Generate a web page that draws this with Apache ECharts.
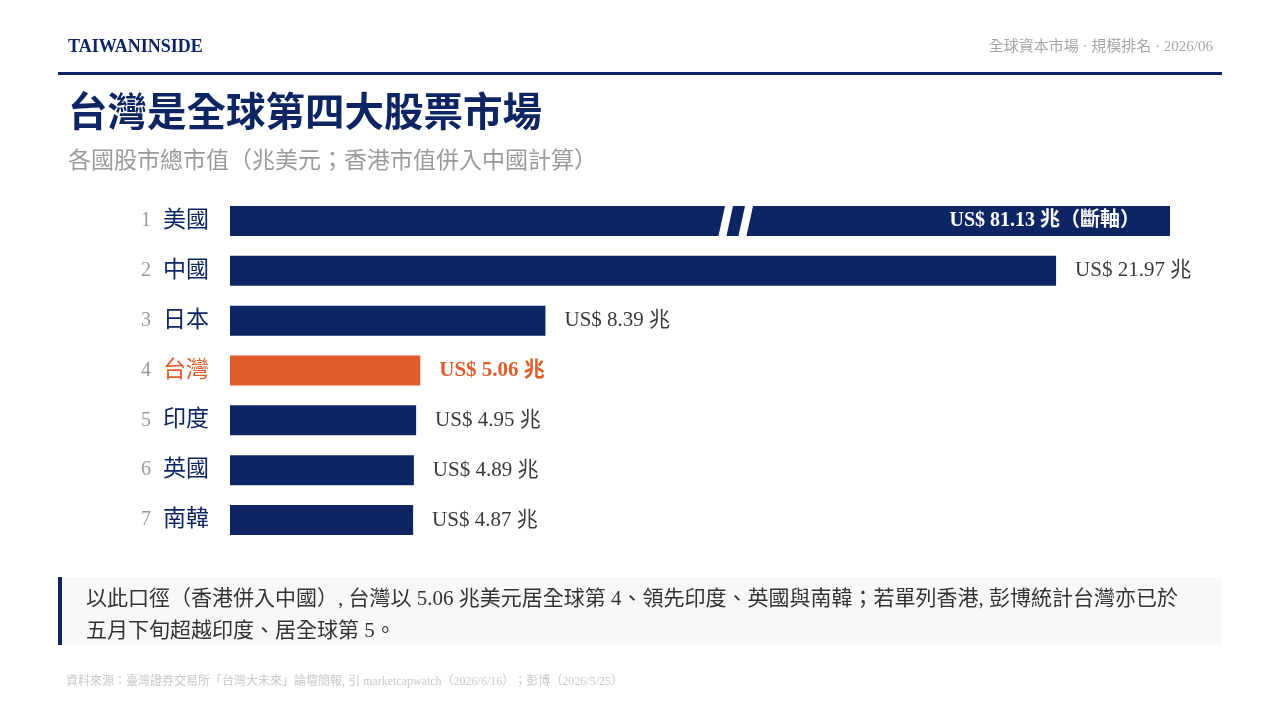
<!DOCTYPE html>
<html>
<head>
<meta charset="utf-8">
<script src="https://cdn.jsdelivr.net/npm/echarts@6/dist/echarts.min.js"></script>
<style>
  html, body { margin: 0; padding: 0; background: #fff; }
  #chart { width: 1279px; height: 719px; }
</style>
</head>
<body>
<div id="chart"></div>
<script>
// data
const countries = ['美國', '中國', '日本', '台灣', '印度', '英國', '南韓'];
const marketCap = [81.13, 21.97, 8.39, 5.06, 4.95, 4.89, 4.87]; // 兆美元
const highlight = '台灣';
const axisMax = 25;     // 美國 bar is cut here (斷軸)
const breakAt = 13.45;  // where the // mark sits on the cut bar

const NAVY = '#0d2563';
const ORANGE = '#e05c2a';
const SERIF = '"Liberation Serif", "Times New Roman", "Noto Sans CJK TC", serif';

const chart = echarts.init(document.getElementById('chart'));

const barData = marketCap.map((v, i) => {
  const isHi = countries[i] === highlight;
  const cut = v > axisMax;
  return {
    value: Math.min(v, axisMax),
    real: v,
    itemStyle: { color: isHi ? ORANGE : NAVY },
    label: cut ? {
      position: 'insideRight', distance: 30, color: '#fff', fontWeight: 'bold', fontSize: 20,
      formatter: 'US$ ' + v.toFixed(2) + ' 兆（斷軸）'
    } : isHi ? { color: ORANGE, fontWeight: 'bold' } : {}
  };
});

const noteText = '以此口徑（香港併入中國）, 台灣以 5.06 兆美元居全球第 4、領先印度、英國與南韓；若單列香港, 彭博統計台灣亦已於\n五月下旬超越印度、居全球第 5。';

const decor = [
  { id: 'rule', type: 'rect', shape: { x: 58, y: 72, width: 1164, height: 3 }, style: { fill: NAVY } },
  { id: 'noteBg', type: 'rect', shape: { x: 58, y: 577, width: 1164, height: 68 }, style: { fill: '#f8f8f8' } },
  { id: 'noteBar', type: 'rect', shape: { x: 58, y: 577, width: 4, height: 68 }, style: { fill: NAVY } },
  { id: 'noteText', type: 'text', x: 86, y: 583,
    style: { text: noteText, fontFamily: SERIF, fontSize: 21, fill: '#333', lineHeight: 32 } }
];

chart.setOption({
  animation: false,
  textStyle: { fontFamily: SERIF },
  title: [
    { text: 'TAIWANINSIDE', left: 63, top: 33,
      textStyle: { fontFamily: SERIF, fontSize: 18, fontWeight: 'bold', color: NAVY } },
    { text: '全球資本市場 · 規模排名 · 2026/06', right: 61, top: 35,
      textStyle: { fontFamily: SERIF, fontSize: 15, fontWeight: 'normal', color: '#a6a6a6' } },
    { text: '台灣是全球第四大股票市場', left: 63, top: 91,
      textStyle: { fontFamily: SERIF, fontSize: 39.5, fontWeight: 'bold', color: NAVY } },
    { text: '各國股市總市值（兆美元；香港市值併入中國計算）', left: 63, top: 145,
      textStyle: { fontFamily: SERIF, fontSize: 23, fontWeight: 'normal', color: '#9a9a9a' } },
    { text: '資料來源：臺灣證券交易所「台灣大未來」論壇簡報, 引 marketcapwatch（2026/6/16）；彭博（2026/5/25）',
      left: 61, top: 671,
      textStyle: { fontFamily: SERIF, fontSize: 12, fontWeight: 'normal', color: '#c8c8c8' } }
  ],
  graphic: { elements: decor },
  grid: { left: 230, right: 109, top: 196, bottom: 174, containLabel: false },
  xAxis: {
    type: 'value', min: 0, max: axisMax,
    show: false
  },
  yAxis: {
    type: 'category', data: countries, inverse: true,
    axisLine: { show: false }, axisTick: { show: false },
    axisLabel: {
      margin: 21,
      formatter: (name, i) => '{r|' + (i + 1) + '}{' + (name === highlight ? 'h' : 'n') + '|' + name + '}',
      rich: {
        r: { fontFamily: SERIF, fontSize: 20, color: '#9a9a9a', padding: [0, 12, 0, 0] },
        n: { fontFamily: SERIF, fontSize: 23, color: NAVY },
        h: { fontFamily: SERIF, fontSize: 23, color: ORANGE }
      }
    }
  },
  series: [{
    type: 'bar',
    data: barData,
    barWidth: 30,
    label: {
      show: true, position: 'right', distance: 19,
      fontFamily: SERIF, fontSize: 21, color: '#3a3a3a',
      formatter: p => 'US$ ' + p.data.real.toFixed(2) + ' 兆'
    }
  }]
});

// the // break mark on the cut bar, placed through the axis scale
const cutIdx = marketCap.findIndex(v => v > axisMax);
if (cutIdx >= 0) {
  const c = chart.convertToPixel({ gridIndex: 0 }, [breakAt, countries[cutIdx]]);
  const h = 32, top = c[1] - h / 2, bot = c[1] + h / 2, slant = 7, gw = 8, mid = 12;
  const gap = (id, x0) => ({
    id: id, type: 'polygon', z: 100,
    shape: { points: [[x0, bot], [x0 + gw, bot], [x0 + gw + slant, top], [x0 + slant, top]] },
    style: { fill: '#fff' }
  });
  const x1 = c[0] - mid / 2 - gw - slant / 2;
  const x2 = c[0] + mid / 2 - slant / 2;
  chart.setOption({ graphic: { elements: decor.concat([gap('gap1', x1), gap('gap2', x2)]) } });
}
</script>
</body>
</html>
